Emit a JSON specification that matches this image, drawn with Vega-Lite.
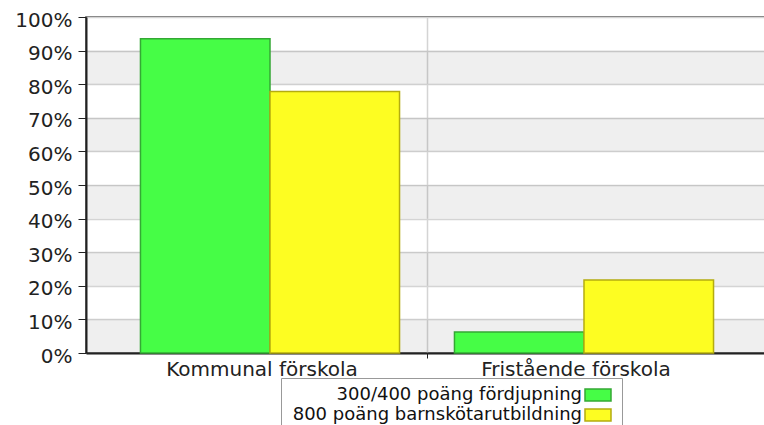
{
  "$schema": "https://vega.github.io/schema/vega-lite/v6.json",
  "width": 682,
  "height": 336,
  "autosize": {"type": "none"},
  "padding": {"left": 86, "top": 17, "right": 0, "bottom": 72},
  "background": "white",
  "config": {
    "font": "DejaVu Sans",
    "view": {"stroke": "#444", "strokeWidth": 1.5},
    "axisY": {
      "title": null,
      "format": "%",
      "values": [0, 0.1, 0.2, 0.3, 0.4, 0.5, 0.6, 0.7, 0.8, 0.9, 1],
      "grid": true,
      "gridColor": "#d4d4d4",
      "gridWidth": 1.5,
      "tickSize": 8,
      "tickColor": "#222",
      "domainColor": "#222",
      "domainWidth": 2,
      "labelFontSize": 20,
      "labelColor": "#222",
      "labelPadding": 6,
      "labelOffset": 3
    }
  },
  "layer": [
    {
      "data": {"values": [
        {"lo": 0, "hi": 0.1},
        {"lo": 0.2, "hi": 0.3},
        {"lo": 0.4, "hi": 0.5},
        {"lo": 0.6, "hi": 0.7},
        {"lo": 0.8, "hi": 0.9}
      ]},
      "mark": {"type": "rect", "color": "#000", "opacity": 0.063},
      "encoding": {
        "y": {"field": "lo", "type": "quantitative", "scale": {"domain": [0, 1], "nice": false}, "title": null},
        "y2": {"field": "hi"}
      }
    },
    {
      "data": {"values": [
        {"type": "Kommunal förskola", "series": "300/400 poäng fördjupning", "share": 0.935},
        {"type": "Kommunal förskola", "series": "800 poäng barnskötarutbildning", "share": 0.778},
        {"type": "Fristående förskola", "series": "300/400 poäng fördjupning", "share": 0.0625},
        {"type": "Fristående förskola", "series": "800 poäng barnskötarutbildning", "share": 0.217}
      ]},
      "mark": {"type": "bar", "strokeWidth": 1.5, "opacity": 1},
      "encoding": {
        "x": {
          "field": "type", "type": "nominal",
          "sort": ["Kommunal förskola", "Fristående förskola"],
          "scale": {"paddingInner": 0, "paddingOuter": 0.086},
          "axis": {
            "title": null,
            "labelAngle": 0,
            "bandPosition": 1,
            "labelOffset": -8,
            "labelLimit": 400,
            "labelFontSize": 20,
            "labelColor": "#222",
            "labelPadding": 1,
            "domainColor": "#222",
            "domainWidth": 2,
            "tickSize": 5,
            "tickColor": {"condition": {"test": "datum.value === 'Kommunal förskola'", "value": "#222"}, "value": "transparent"},
            "grid": true,
            "gridWidth": 1.5,
            "gridColor": {"condition": {"test": "datum.value === 'Kommunal förskola'", "value": "#d4d4d4"}, "value": "transparent"}
          }
        },
        "xOffset": {
          "field": "series", "type": "nominal",
          "sort": ["300/400 poäng fördjupning", "800 poäng barnskötarutbildning"],
          "scale": {"paddingInner": 0, "paddingOuter": 0.212}
        },
        "y": {"field": "share", "type": "quantitative", "title": null},
        "color": {
          "field": "series", "type": "nominal",
          "scale": {"domain": ["300/400 poäng fördjupning", "800 poäng barnskötarutbildning"], "range": ["#46fd46", "#fdfd22"]},
          "legend": {
            "title": null,
            "orient": "none",
            "legendX": 195,
            "legendY": 361,
            "direction": "vertical",
            "labelFontSize": 18,
            "labelColor": "#111",
            "labelAlign": "right",
            "labelOffset": -25,
            "labelLimit": 600,
            "symbolType": "M-2,-0.92H2V0.92H-2Z",
            "symbolSize": 169,
            "symbolOffset": 300,
            "symbolStrokeColor": "#222",
            "symbolStrokeWidth": 1.5,
            "symbolOpacity": 1,
            "rowPadding": 2,
            "fillColor": "white",
            "strokeColor": "#999",
            "padding": 8
          }
        },
        "stroke": {
          "field": "series", "type": "nominal",
          "scale": {"domain": ["300/400 poäng fördjupning", "800 poäng barnskötarutbildning"], "range": ["#34a834", "#b4ac10"]},
          "legend": null
        }
      }
    }
  ]
}
